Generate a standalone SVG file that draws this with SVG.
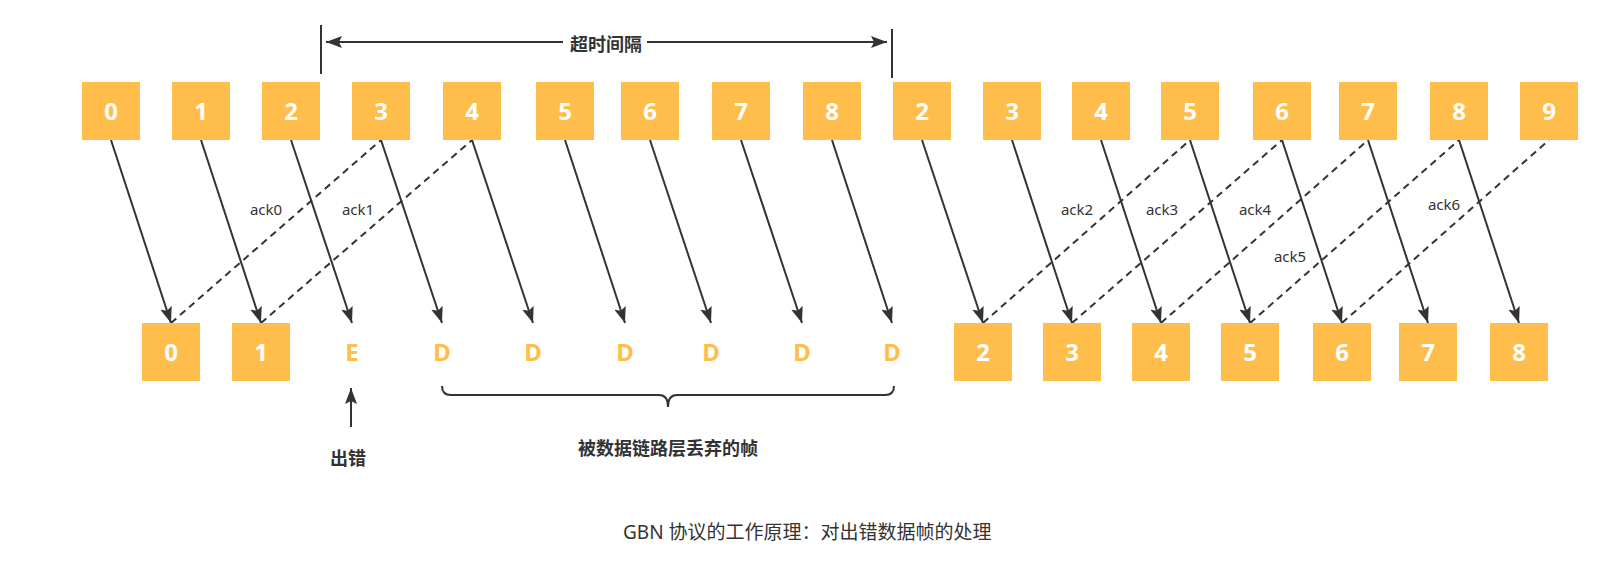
<svg xmlns="http://www.w3.org/2000/svg" width="1613" height="577" viewBox="0 0 1613 577">
<defs>
<style>
.box{fill:#FFBD4B;}
.num{font-family:"Noto Sans","Liberation Sans",sans-serif;font-weight:bold;font-size:24px;fill:#FFFFFF;text-anchor:middle;}
.err{font-family:"Noto Sans","Liberation Sans",sans-serif;font-weight:bold;font-size:24px;fill:#FFBD4B;text-anchor:middle;}
.ln{stroke:#333333;stroke-width:2;fill:none;}
.dash{stroke:#333333;stroke-width:2;fill:none;stroke-dasharray:7 5;}
.ack{font-family:"Noto Sans","Liberation Sans",sans-serif;font-size:15px;fill:#333333;text-anchor:middle;}
.lbl{font-family:"Noto Sans","Noto Sans CJK SC",sans-serif;font-weight:bold;font-size:18px;fill:#333333;text-anchor:middle;}
.cap{font-family:"Noto Sans","Noto Sans CJK SC",sans-serif;font-size:19px;fill:#333333;}
</style>
<marker id="ah" viewBox="0 0 16 12" refX="16" refY="6" markerWidth="16" markerHeight="12" markerUnits="userSpaceOnUse" orient="auto-start-reverse">
<path d="M0,0 L16,6 L0,12 L3,6 Z" fill="#333333"/>
</marker>
</defs>
<rect width="1613" height="577" fill="#FFFFFF"/>

<g id="connectors">
<line class="ln" x1="111" y1="140" x2="171" y2="323" marker-end="url(#ah)"/>
<line class="ln" x1="201" y1="140" x2="261" y2="323" marker-end="url(#ah)"/>
<line class="ln" x1="291" y1="140" x2="352" y2="323" marker-end="url(#ah)"/>
<line class="ln" x1="381" y1="140" x2="442" y2="323" marker-end="url(#ah)"/>
<line class="ln" x1="472" y1="140" x2="533" y2="323" marker-end="url(#ah)"/>
<line class="ln" x1="565" y1="140" x2="625" y2="323" marker-end="url(#ah)"/>
<line class="ln" x1="650" y1="140" x2="711" y2="323" marker-end="url(#ah)"/>
<line class="ln" x1="741" y1="140" x2="802" y2="323" marker-end="url(#ah)"/>
<line class="ln" x1="832" y1="140" x2="892" y2="323" marker-end="url(#ah)"/>
<line class="ln" x1="922" y1="140" x2="983" y2="323" marker-end="url(#ah)"/>
<line class="ln" x1="1012" y1="140" x2="1072" y2="323" marker-end="url(#ah)"/>
<line class="ln" x1="1101" y1="140" x2="1161" y2="323" marker-end="url(#ah)"/>
<line class="ln" x1="1190" y1="140" x2="1250" y2="323" marker-end="url(#ah)"/>
<line class="ln" x1="1282" y1="140" x2="1342" y2="323" marker-end="url(#ah)"/>
<line class="ln" x1="1368" y1="140" x2="1428" y2="323" marker-end="url(#ah)"/>
<line class="ln" x1="1459" y1="140" x2="1519" y2="323" marker-end="url(#ah)"/>

<line class="dash" x1="171" y1="323" x2="381" y2="140"/>
<line class="dash" x1="261" y1="323" x2="472" y2="140"/>
<line class="dash" x1="983" y1="323" x2="1190" y2="140"/>
<line class="dash" x1="1072" y1="323" x2="1282" y2="140"/>
<line class="dash" x1="1161" y1="323" x2="1368" y2="140"/>
<line class="dash" x1="1250" y1="323" x2="1459" y2="140"/>
<line class="dash" x1="1342" y1="323" x2="1549" y2="140"/>

<text class="ack" x="266" y="215">ack0</text>
<text class="ack" x="358" y="215">ack1</text>
<text class="ack" x="1077" y="215">ack2</text>
<text class="ack" x="1162" y="215">ack3</text>
<text class="ack" x="1255" y="215">ack4</text>
<text class="ack" x="1290" y="262">ack5</text>
<text class="ack" x="1444" y="210">ack6</text>

<line class="ln" x1="321" y1="25" x2="321" y2="74"/>
<line class="ln" x1="892" y1="29" x2="892" y2="78"/>
<line class="ln" x1="326" y1="42" x2="887" y2="42" marker-start="url(#ah)" marker-end="url(#ah)"/>

<line class="ln" x1="351" y1="427" x2="351" y2="388" marker-end="url(#ah)"/>

<path class="ln" d="M442,386 Q442,395 451,395 L659,395 Q668,395 668,407 Q668,395 677,395 L885,395 Q894,395 894,386"/>
</g>

<g id="timeout-label">
<rect x="563" y="32" width="84" height="22" fill="#FFFFFF"/>
<text class="lbl" x="606" y="51">超时间隔</text>
</g>

<g id="send-0"><rect class="box" x="82" y="82" width="58" height="58"/><text class="num" x="111" y="119.5">0</text></g>
<g id="send-1"><rect class="box" x="172" y="82" width="58" height="58"/><text class="num" x="201" y="119.5">1</text></g>
<g id="send-2"><rect class="box" x="262" y="82" width="58" height="58"/><text class="num" x="291" y="119.5">2</text></g>
<g id="send-3"><rect class="box" x="352" y="82" width="58" height="58"/><text class="num" x="381" y="119.5">3</text></g>
<g id="send-4"><rect class="box" x="443" y="82" width="58" height="58"/><text class="num" x="472" y="119.5">4</text></g>
<g id="send-5"><rect class="box" x="536" y="82" width="58" height="58"/><text class="num" x="565" y="119.5">5</text></g>
<g id="send-6"><rect class="box" x="621" y="82" width="58" height="58"/><text class="num" x="650" y="119.5">6</text></g>
<g id="send-7"><rect class="box" x="712" y="82" width="58" height="58"/><text class="num" x="741" y="119.5">7</text></g>
<g id="send-8"><rect class="box" x="803" y="82" width="58" height="58"/><text class="num" x="832" y="119.5">8</text></g>
<g id="resend-2"><rect class="box" x="893" y="82" width="58" height="58"/><text class="num" x="922" y="119.5">2</text></g>
<g id="resend-3"><rect class="box" x="983" y="82" width="58" height="58"/><text class="num" x="1012" y="119.5">3</text></g>
<g id="resend-4"><rect class="box" x="1072" y="82" width="58" height="58"/><text class="num" x="1101" y="119.5">4</text></g>
<g id="resend-5"><rect class="box" x="1161" y="82" width="58" height="58"/><text class="num" x="1190" y="119.5">5</text></g>
<g id="resend-6"><rect class="box" x="1253" y="82" width="58" height="58"/><text class="num" x="1282" y="119.5">6</text></g>
<g id="resend-7"><rect class="box" x="1339" y="82" width="58" height="58"/><text class="num" x="1368" y="119.5">7</text></g>
<g id="resend-8"><rect class="box" x="1430" y="82" width="58" height="58"/><text class="num" x="1459" y="119.5">8</text></g>
<g id="resend-9"><rect class="box" x="1520" y="82" width="58" height="58"/><text class="num" x="1549" y="119.5">9</text></g>

<g id="recv-0"><rect class="box" x="142" y="323" width="58" height="58"/><text class="num" x="171" y="360.5">0</text></g>
<g id="recv-1"><rect class="box" x="232" y="323" width="58" height="58"/><text class="num" x="261" y="360.5">1</text></g>
<g id="recv-E"><text class="err" x="352" y="360.5">E</text></g>
<g id="recv-D3"><text class="err" x="442" y="360.5">D</text></g>
<g id="recv-D4"><text class="err" x="533" y="360.5">D</text></g>
<g id="recv-D5"><text class="err" x="625" y="360.5">D</text></g>
<g id="recv-D6"><text class="err" x="711" y="360.5">D</text></g>
<g id="recv-D7"><text class="err" x="802" y="360.5">D</text></g>
<g id="recv-D8"><text class="err" x="892" y="360.5">D</text></g>
<g id="recv-2"><rect class="box" x="954" y="323" width="58" height="58"/><text class="num" x="983" y="360.5">2</text></g>
<g id="recv-3"><rect class="box" x="1043" y="323" width="58" height="58"/><text class="num" x="1072" y="360.5">3</text></g>
<g id="recv-4"><rect class="box" x="1132" y="323" width="58" height="58"/><text class="num" x="1161" y="360.5">4</text></g>
<g id="recv-5"><rect class="box" x="1221" y="323" width="58" height="58"/><text class="num" x="1250" y="360.5">5</text></g>
<g id="recv-6"><rect class="box" x="1313" y="323" width="58" height="58"/><text class="num" x="1342" y="360.5">6</text></g>
<g id="recv-7"><rect class="box" x="1399" y="323" width="58" height="58"/><text class="num" x="1428" y="360.5">7</text></g>
<g id="recv-8"><rect class="box" x="1490" y="323" width="58" height="58"/><text class="num" x="1519" y="360.5">8</text></g>

<g id="error-label"><text class="lbl" x="348" y="465">出错</text></g>
<g id="discard-label"><text class="lbl" x="668" y="455">被数据链路层丢弃的帧</text></g>
<g id="caption"><text class="cap" x="623" y="539">GBN 协议的工作原理：对出错数据帧的处理</text></g>
</svg>
